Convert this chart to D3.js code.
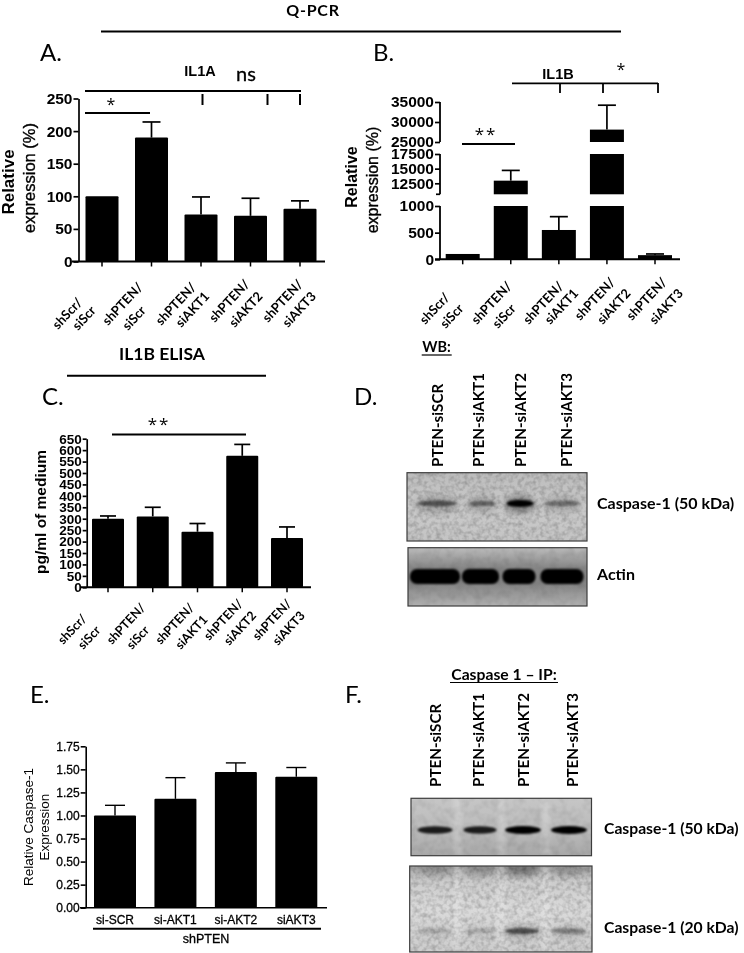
<!DOCTYPE html>
<html><head><meta charset="utf-8">
<script src="https://d3js.org/d3.v7.min.js"></script>
<style>
html,body{margin:0;padding:0;background:#fff}
svg{display:block;filter:blur(0.3px)}
text{fill:#000}
.ar{font-family:"Liberation Sans",Arial,sans-serif}
.cal{font-family:Lato,"Open Sans",sans-serif}
.os{font-family:"Open Sans",sans-serif}
</style></head><body>
<svg id="c" width="744" height="953"></svg>
<script>
// ---------- data ----------
const catA = [["shScr/","siScr"],["shPTEN/","siScr"],["shPTEN/","siAKT1"],["shPTEN/","siAKT2"],["shPTEN/","siAKT3"]];
const valA = [100,190,72,70,81];
const errA = [100,214,99,97,93];
const tickA = [0,50,100,150,200,250];
const valB = [100,12950,550,28100,78];
const errB = [100,14700,800,34200,100];
const tickBlow = [0,500,1000];
const tickBmid = [12500,15000,17500];
const tickBtop = [25000,30000,35000];
const valC = [300,310,243,575,216];
const errC = [312,350,279,625,264];
const tickC = [0,50,100,150,200,250,300,350,400,450,500,550,600,650];
const catE = ["si-SCR","si-AKT1","si-AKT2","siAKT3"];
const valE = [1.0,1.18,1.47,1.42];
const errE = [1.11,1.41,1.57,1.52];
const tickE = [0,0.25,0.5,0.75,1,1.25,1.5,1.75];
const laneLabels = ["PTEN-siSCR","PTEN-siAKT1","PTEN-siAKT2","PTEN-siAKT3"];
const casp50D = [0.5,0.42,1,0.36];
const actinD = [1,1,1,1];
const casp50F = [0.85,0.85,1,1];
const casp20F = [0.14,0.14,0.55,0.32];

const svg = d3.select("#c");
const defs = svg.append("defs");
// soft gel texture
function noise(id,freq,amount){
  const f=defs.append("filter").attr("id",id).attr("x",0).attr("y",0).attr("width","100%").attr("height","100%");
  f.append("feTurbulence").attr("type","fractalNoise").attr("baseFrequency",freq).attr("numOctaves",2).attr("seed",7).attr("result","n");
  f.append("feColorMatrix").attr("in","n").attr("type","matrix")
   .attr("values",`0 0 0 0 0  0 0 0 0 0  0 0 0 0 0  ${amount} 0 0 0 ${-amount*0.38}`);
  f.append("feGaussianBlur").attr("stdDeviation",0.7);
}
noise("grain",0.22,0.42);
noise("grainSoft",0.12,0.18);
[["b1",1.2],["b2",2.2],["b3",3]].forEach(([id,s])=>{
  defs.append("filter").attr("id",id).attr("x","-30%").attr("y","-100%").attr("width","160%").attr("height","300%")
    .append("feGaussianBlur").attr("stdDeviation",s);
});
function vgrad(id,stops){
  const g=defs.append("linearGradient").attr("id",id).attr("x1",0).attr("y1",0).attr("x2",0).attr("y2",1);
  stops.forEach(([o,c])=>g.append("stop").attr("offset",o).attr("stop-color",c));
}
vgrad("bgDt",[[0,"#bcbcbc"],[0.5,"#cacaca"],[1,"#c4c4c4"]]);
vgrad("bgDb",[[0,"#bcbcbc"],[0.35,"#858585"],[0.6,"#828282"],[1,"#b0b0b0"]]);
vgrad("bgFt",[[0,"#c6c6c6"],[0.5,"#bcbcbc"],[1,"#a8a8a8"]]);
vgrad("bgFb",[[0,"#a4a4a4"],[0.18,"#cccccc"],[0.5,"#dadada"],[1,"#cccccc"]]);

function txt(g,x,y,s,o={}){
  const t=g.append("text").attr("x",x).attr("y",y).text(s)
    .attr("class",o.cls||"cal").attr("font-size",o.size||14)
    .attr("font-weight",o.weight||"normal").attr("text-anchor",o.anchor||"start");
  if(o.rot!=null)t.attr("transform",`rotate(${o.rot},${x},${y})`);
  if(o.stroke)t.attr("stroke","#000").attr("stroke-width",o.stroke);
  return t;
}
function line(x1,y1,x2,y2,w=1.6){
  svg.append("line").attr("x1",x1).attr("y1",y1).attr("x2",x2).attr("y2",y2).attr("stroke","#000").attr("stroke-width",w);
}
function bars(x,y,vals,errs,w,base,cap,lw){
  const g=svg.append("g");
  vals.forEach((v,i)=>{
    if(errs[i]>v){
      g.append("line").attr("x1",x(i)).attr("x2",x(i)).attr("y1",y(v)).attr("y2",y(errs[i])).attr("stroke","#000").attr("stroke-width",lw);
      g.append("line").attr("x1",x(i)-cap).attr("x2",x(i)+cap).attr("y1",y(errs[i])).attr("y2",y(errs[i])).attr("stroke","#000").attr("stroke-width",lw);
    }
    g.append("rect").attr("x",x(i)-w/2).attr("width",w).attr("y",y(v)).attr("height",y(base)-y(v)).attr("rx",1);
  });
}
function yAxis(scale,ticks,x,fmt,size,lw,tl,cls,weight){
  const g=svg.append("g").attr("transform",`translate(${x},0)`)
    .call(d3.axisLeft(scale).tickValues(ticks).tickFormat(fmt).tickSize(tl).tickSizeOuter(0).tickPadding(1));
  g.selectAll("path,line").attr("stroke","#000").attr("stroke-width",lw);
  g.selectAll("text").attr("class",cls||"ar").attr("font-size",size).attr("font-weight",weight||"bold").attr("fill","#000");
  return g;
}
function xTicks(x,n,y0,len,lw){
  d3.range(n).forEach(i=>line(x(i),y0,x(i),y0+len,lw));
}
const lblSize=13, lblRot=-47;

// ---------- overall headers ----------
txt(svg,313,15.8,"Q-PCR",{size:16,weight:"bold",anchor:"middle"}).attr("letter-spacing",0.8);
line(101,31.5,621,31.5,2);
txt(svg,162,360,"IL1B ELISA",{size:17.5,weight:"bold",anchor:"middle"});
line(67,375.7,266,375.7,2);
[["A.",40,61],["B.",373,61],["C.",42,405],["D.",354,405],["E.",30,703],["F.",345,703]]
 .forEach(([s,x,y])=>txt(svg,x,y,s,{size:24}));

// ---------- Panel A ----------
{
  const x=d3.scaleLinear().domain([0,4]).range([102,300]);
  const y=d3.scaleLinear().domain([0,250]).range([261.5,98.5]);
  bars(x,y,valA,errA,33,0,9,1.7);
  yAxis(y,tickA,78.5,d3.format("d"),15.5,1.7,5);
  line(72,261.5,325,261.5,2);
  xTicks(x,5,261.5,5,1.5);
  txt(svg,14,182,"Relative",{cls:"ar",size:17,weight:"bold",anchor:"middle",rot:-90});
  txt(svg,35,178,"expression (%)",{cls:"ar",size:16.5,anchor:"middle",rot:-90,stroke:0.35});
  txt(svg,200,76,"IL1A",{cls:"ar",size:14.5,weight:"bold",anchor:"middle"});
  txt(svg,246,81,"ns",{size:20,anchor:"middle",stroke:0.3});
  line(85,91,301,91,2);
  [202.5,267.5,300].forEach(v=>line(v,94,v,105,2));
  txt(svg,111,110,"*",{cls:"os",size:16,anchor:"middle"});
  line(85,113,150,113,1.8);
  const f=d3.scaleLinear().domain([1,4]).range([108,268]), s=d3.scaleLinear().domain([1,4]).range([128,288]);
  catA.forEach((c,i)=>{
    txt(svg,i?f(i):58,i<3&&i?326:(i?323:330),c[0],{size:lblSize,weight:"bold",rot:lblRot});
    txt(svg,i?s(i):78,i<2?331:328,c[1],{size:lblSize,weight:"bold",rot:lblRot});
  });
}
// ---------- Panel B ----------
{
  const x=d3.scaleLinear().domain([0,4]).range([462.7,655]);
  const yL=d3.scaleLinear().domain([0,1000]).range([259.3,206]);
  const yM=d3.scaleLinear().domain([12500,17500]).range([183.3,154]);
  const yT=d3.scaleLinear().domain([25000,35000]).range([142,102]);
  const w=34, minM=10625, maxM=17500, minT=25000, g=svg.append("g");
  valB.forEach((v,i)=>{
    const r=(sc,a,b)=>g.append("rect").attr("x",x(i)-w/2).attr("width",w).attr("y",sc(b)).attr("height",sc(a)-sc(b));
    r(yL,0,Math.min(v,1000));
    if(v>minM) r(yM,minM,Math.min(v,maxM));
    if(v>minT) r(yT,minT,v);
    const sc=errB[i]>minT?yT:errB[i]>minM?yM:yL;
    if(errB[i]>v){
      const from=sc(v);
      g.append("line").attr("x1",x(i)).attr("x2",x(i)).attr("y1",from).attr("y2",sc(errB[i])).attr("stroke","#000").attr("stroke-width",1.7);
      g.append("line").attr("x1",x(i)-9).attr("x2",x(i)+9).attr("y1",sc(errB[i])).attr("y2",sc(errB[i])).attr("stroke","#000").attr("stroke-width",1.7);
    }
  });
  const ax=440;
  yAxis(yL,tickBlow,ax,d3.format("d"),15.5,1.7,5).select(".domain").remove();
  yAxis(yM,tickBmid,ax,d3.format("d"),15.5,1.7,5).select(".domain").remove();
  yAxis(yT,tickBtop,ax,d3.format("d"),15.5,1.7,5).select(".domain").remove();
  line(ax,yL(0),ax,yL(1000),1.8);
  line(ax,yM(minM),ax,yM(maxM),1.8);
  line(ax-4,yM(minM),ax,yM(minM),1.7);
  line(ax,yT(minT),ax,yT(35000),1.8);
  line(435,259.3,680,259.3,2);
  xTicks(x,5,259.3,5,1.5);
  txt(svg,357,177,"Relative",{cls:"ar",size:16,weight:"bold",anchor:"middle",rot:-90});
  txt(svg,378,180,"expression (%)",{cls:"ar",size:16,anchor:"middle",rot:-90,stroke:0.35});
  txt(svg,558,79,"IL1B",{cls:"ar",size:14.5,weight:"bold",anchor:"middle"});
  txt(svg,621,75,"*",{cls:"os",size:16,anchor:"middle"});
  line(512,83.3,658,83.3,1.8);
  [560,603,658].forEach(v=>line(v,83,v,93,1.8));
  txt(svg,486,140,"**",{cls:"os",size:17,anchor:"middle"}).attr("letter-spacing",2);
  line(462,144,515,144,1.8);
  const f=d3.scaleLinear().domain([1,4]).range([477,632]), s=d3.scaleLinear().domain([1,4]).range([498,655]);
  catA.forEach((c,i)=>{
    txt(svg,f(i),i<3?325:321,c[0],{size:lblSize,weight:"bold",rot:lblRot});
    txt(svg,s(i),i<2?329:325,c[1],{size:lblSize,weight:"bold",rot:lblRot});
  });
}
// ---------- Panel C ----------
{
  const x=d3.scaleLinear().domain([0,4]).range([108,287]);
  const y=d3.scaleLinear().domain([0,650]).range([587.3,438.7]);
  bars(x,y,valC,errC,32,0,8,1.7);
  yAxis(y,tickC,86.7,d3.format("d"),13.5,1.7,4);
  line(81,587.3,311,587.3,2);
  xTicks(x,5,587.3,5,1.5);
  txt(svg,46,512,"pg/ml of medium",{cls:"ar",size:15.5,weight:"bold",anchor:"middle",rot:-90});
  txt(svg,159,430,"**",{cls:"os",size:17,anchor:"middle"}).attr("letter-spacing",2);
  line(112,434.5,246,434.5,2);
  const f=d3.scaleLinear().domain([1,4]).range([112,258]), s=d3.scaleLinear().domain([1,4]).range([132,278]);
  catA.forEach((c,i)=>{
    txt(svg,f(i),i<3?645:641,c[0],{size:12.5,weight:"bold",rot:lblRot});
    txt(svg,s(i),i<3?650:646,c[1],{size:12.5,weight:"bold",rot:lblRot});
  });
}
// ---------- Panel E ----------
{
  const xi=d3.scaleLinear().domain([0,3]).range([115,296.3]);
  const y=d3.scaleLinear().domain([0,1.75]).range([907.7,746.3]);
  bars(xi,y,valE,errE,42,0,10,1.4);
  yAxis(y,tickE,85.7,d3.format(".2f"),12,1.6,5,"ar","normal").selectAll("text").attr("stroke","#000").attr("stroke-width",0.3);
  line(80,907.7,327,907.7,1.6);
  catE.forEach((c,i)=>txt(svg,xi(i),924,c,{cls:"ar",size:12,anchor:"middle",stroke:0.3}));
  line(93,928.8,321,928.8,2);
  txt(svg,206,943,"shPTEN",{cls:"ar",size:12.5,anchor:"middle",stroke:0.3});
  txt(svg,33,827,"Relative Caspase-1",{cls:"ar",size:13.5,anchor:"middle",rot:-90});
  txt(svg,49,827,"Expression",{cls:"ar",size:13.5,anchor:"middle",rot:-90});
}
// ---------- blots ----------
function blot(b){
  const g=svg.append("g");
  const cid="cp"+b.id;
  defs.append("clipPath").attr("id",cid).append("rect").attr("x",b.x0).attr("y",b.y0).attr("width",b.x1-b.x0).attr("height",b.y1-b.y0);
  const inner=g.append("g").attr("clip-path",`url(#${cid})`);
  const box=()=>inner.append("rect").attr("x",b.x0).attr("y",b.y0).attr("width",b.x1-b.x0).attr("height",b.y1-b.y0);
  box().attr("fill",`url(#${b.bg})`);
  if(b.streak) b.lanes.forEach((_,i)=>{ if(i) inner.append("rect").attr("x",(b.lanes[i-1][0]+b.lanes[i][0])/2-4).attr("width",8)
      .attr("y",b.y0).attr("height",b.y1-b.y0).attr("fill","#fff").attr("opacity",0.2).attr("filter","url(#b2)");});
  box().attr("fill","#000").attr("filter",`url(#${b.grain})`);
  b.lanes.forEach(([cx,w],i)=>{
    const v=b.vals[i], h=b.bh*(0.65+0.35*v);
    if(b.halo) inner.append("ellipse").attr("cx",cx).attr("cy",b.by+1).attr("rx",w/2+2).attr("ry",b.bh*b.halo).attr("fill","#000")
      .attr("opacity",v*0.35).attr("filter","url(#b3)");
    const m=inner.append(b.solid?"rect":"ellipse");
    if(b.solid) m.attr("x",cx-w/2).attr("y",b.by-h/2).attr("width",w).attr("height",h).attr("rx",h/2.2);
    else m.attr("cx",cx).attr("cy",b.by).attr("rx",w/2).attr("ry",h/2);
    m.attr("fill","#000").attr("opacity",v).attr("filter",`url(#${b.blur})`);
  });
  if(b.smudge) b.lanes.forEach(([cx,w],i)=>inner.append("ellipse").attr("cx",cx).attr("cy",b.y0+3).attr("rx",w/2).attr("ry",7)
      .attr("fill","#000").attr("opacity",b.vals[i]>0.5?0.3:0.15).attr("filter","url(#b3)"));
  g.append("rect").attr("x",b.x0).attr("y",b.y0).attr("width",b.x1-b.x0).attr("height",b.y1-b.y0)
    .attr("fill","none").attr("stroke","#3c3c3c").attr("stroke-width",1.2);
}
blot({id:1,x0:407,x1:587,y0:472.7,y1:541,bg:"bgDt",by:503.5,bh:7,blur:"b1",halo:1.3,grain:"grain",vals:casp50D,
  lanes:[[437,40],[482,27],[520,27],[562,36]]});
blot({id:2,x0:408,x1:587,y0:547.7,y1:606,bg:"bgDb",by:576.5,bh:15,blur:"b1",solid:true,grain:"grainSoft",vals:actinD,
  lanes:[[435,50],[480.5,37],[519,33],[562,43]]});
blot({id:3,x0:411,x1:591.5,y0:798.3,y1:855.7,bg:"bgFt",by:830,bh:8,blur:"b1",streak:true,grain:"grainSoft",vals:casp50F,
  lanes:[[435,35],[480,33],[523,36],[569,36]]});
blot({id:4,x0:409.7,x1:592,y0:866,y1:952,bg:"bgFb",by:931,bh:7,blur:"b1",halo:0.9,streak:true,smudge:true,grain:"grain",vals:casp20F,
  lanes:[[435,34],[480,32],[522,34],[569,34]]});

[437,478,520,566].forEach((x,i)=>txt(svg,x+6,467,laneLabels[i],{size:15.2,weight:"bold",rot:-90}));
[435,478,523,571.5].forEach((x,i)=>txt(svg,x+6,787,laneLabels[i],{size:15.2,weight:"bold",rot:-90}));
txt(svg,597,509,"Caspase-1 (50 kDa)",{size:16,weight:"bold"});
txt(svg,597,580,"Actin",{size:16,weight:"bold"});
txt(svg,604,834,"Caspase-1 (50 kDa)",{size:15.7,weight:"bold"});
txt(svg,604,933,"Caspase-1 (20 kDa)",{size:15.7,weight:"bold"});
txt(svg,436.5,352,"WB:",{size:14.5,weight:"bold",anchor:"middle"});
line(421.7,355,451.7,355,1.2);
txt(svg,504,680,"Caspase 1 – IP:",{size:15.7,weight:"bold",anchor:"middle"});
line(450,682.5,558,682.5,1.2);
</script></body></html>
